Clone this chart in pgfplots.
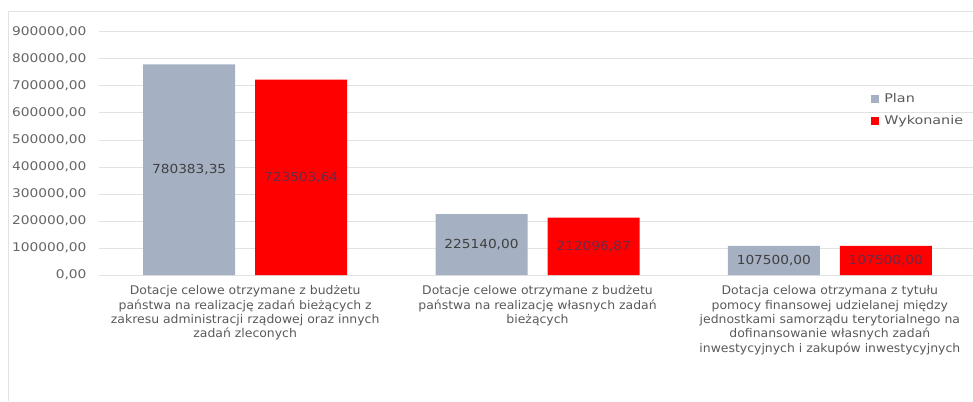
\documentclass[border=0pt]{standalone}
\usepackage{pgfplots}
\pgfplotsset{compat=1.18}
\usepackage{fontspec}
\setmainfont{DejaVu Sans}
\newfontfamily\catfont[FakeStretch=1.04]{DejaVu Sans}
\newfontfamily\tickfont[FakeStretch=1.15]{DejaVu Sans}
\newfontfamily\legfont[FakeStretch=1.2]{DejaVu Sans}
\newfontfamily\valfont[FakeStretch=1.1]{DejaVu Sans}
\definecolor{plangray}{HTML}{A6B0C3}
\definecolor{gridc}{HTML}{E2E2E2}
\definecolor{txt}{HTML}{595959}
\definecolor{ticktxt}{HTML}{666666}
\definecolor{lbl}{HTML}{404040}
\definecolor{lblred}{HTML}{6A2A48}
\begin{document}
\begin{tikzpicture}[x=1bp,y=1bp]
\useasboundingbox (0,0) rectangle (973,401);
% chart frame (image is cropped on right and bottom)
\draw[gridc, line width=1bp] (8,0) -- (8,389) -- (973,389);
\begin{axis}[
    at={(99bp,126bp)}, anchor=south west,
    scale only axis, width=877bp, height=243bp,
    ybar, bar width=92bp,
    xmin=-0.5, xmax=2.5, ymin=0, ymax=900000,
    ytick={0,100000,...,900000},
    scaled y ticks=false,
    /pgf/number format/fixed, /pgf/number format/fixed zerofill,
    /pgf/number format/precision=2, /pgf/number format/use comma,
    /pgf/number format/1000 sep={}, /pgf/number format/assume math mode=true,
    yticklabel style={font=\tickfont\fontsize{12}{12}\selectfont, text=ticktxt, xshift=-9bp},
    ymajorgrids, grid style={gridc, line width=1bp},
    axis y line*=left, y axis line style={draw=none},
    axis x line*=bottom, x axis line style={gridc, line width=1bp},
    major tick length=0pt,
    xtick={0,1,2},
    xticklabels={
      {Dotacje celowe otrzymane z budżetu\\państwa na realizację zadań bieżących z\\zakresu administracji rządowej oraz innych\\zadań zleconych},
      {Dotacje celowe otrzymane z budżetu\\państwa na realizację własnych zadań\\bieżących},
      {Dotacja celowa otrzymana z tytułu\\pomocy finansowej udzielanej między\\jednostkami samorządu terytorialnego na\\dofinansowanie własnych zadań\\inwestycyjnych i zakupów inwestycyjnych}},
    xticklabel style={align=center, text=txt, font=\catfont\fontsize{12}{14.5}\selectfont, yshift=-7bp},
    legend style={at={(0.877,0.765)}, anchor=north west, draw=none, fill=none,
        font=\legfont\fontsize{12}{12}\selectfont, text=txt, row sep=8bp,
        legend cell align=left},
    legend image code/.code={\fill[#1] (0bp,-4bp) rectangle (8bp,4bp); \path (11bp,0bp);},
    visualization depends on=rawy\as\rawy,
    nodes near coords,
    point meta=explicit symbolic,
    every node near coord/.append style={anchor=center,
        shift={(axis direction cs:0,-\rawy/2)},
        font=\valfont\fontsize{12.5}{12}\selectfont},
]
\addplot[fill=plangray, draw=none, bar shift=-56bp,
    every node near coord/.append style={text=lbl}]
    coordinates {(0,780383.35)[780383,35] (1,225140.00)[225140,00] (2,107500.00)[107500,00]};
\addlegendentry{Plan}
\addplot[fill=red, draw=none, bar shift=56bp,
    every node near coord/.append style={text=lblred}]
    coordinates {(0,723503.64)[723503,64] (1,212096.87)[212096,87] (2,107500.00)[107500,00]};
\addlegendentry{Wykonanie}
\end{axis}
\end{tikzpicture}
\end{document}
